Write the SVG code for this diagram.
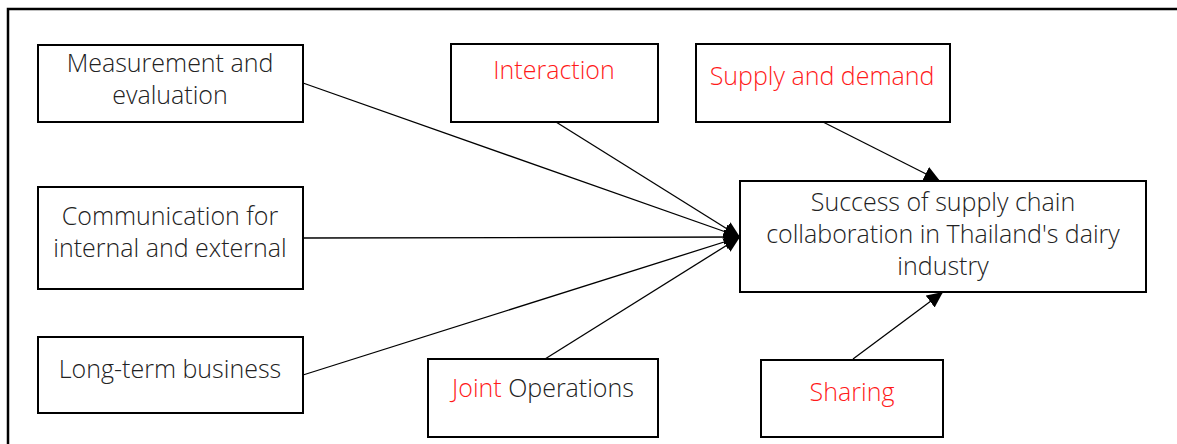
<svg xmlns="http://www.w3.org/2000/svg" width="1177" height="444" viewBox="0 0 1177 444">
  <style>
    .box { fill: #ffffff; stroke: #000000; stroke-width: 2; }
    .frame { fill: none; stroke: #000000; stroke-width: 2.5; }
    .lbl { font-family: "Open Sans", "Noto Sans", "Liberation Sans", sans-serif; font-size: 25px; font-weight: 300; fill: #222222; text-anchor: middle; }
    .red { fill: #ff1a1a; }
    .edge { stroke: #000000; stroke-width: 1.3; fill: none; marker-end: url(#head); }
  </style>
  <defs>
    <marker id="head" markerUnits="userSpaceOnUse" markerWidth="18" markerHeight="16" refX="16" refY="7.5" orient="auto">
      <path d="M0,0 L16,7.5 L0,15 Z" fill="#000000"/>
    </marker>
  </defs>

  <rect width="1177" height="444" fill="#ffffff"/>
  <rect class="frame" x="8" y="9" width="1200" height="480"/>

  <g id="connectors">
    <line class="edge" x1="303" y1="83" x2="740" y2="237"/>
    <line class="edge" x1="556" y1="122" x2="740" y2="237"/>
    <line class="edge" x1="303" y1="238" x2="740" y2="237"/>
    <line class="edge" x1="303" y1="375" x2="740" y2="237"/>
    <line class="edge" x1="545" y1="359" x2="740" y2="237"/>
    <line class="edge" x1="823" y1="122" x2="940" y2="181"/>
    <line class="edge" x1="853" y1="359" x2="943" y2="292"/>
  </g>

  <g id="measurement">
    <rect class="box" x="38" y="45" width="265" height="77"/>
    <text class="lbl" x="170" y="72">Measurement and</text>
    <text class="lbl" x="170" y="104">evaluation</text>
  </g>

  <g id="communication">
    <rect class="box" x="38" y="187" width="265" height="102"/>
    <text class="lbl" x="170" y="225">Communication for</text>
    <text class="lbl" x="170" y="257">internal and external</text>
  </g>

  <g id="longterm">
    <rect class="box" x="38" y="337" width="265" height="76"/>
    <text class="lbl" x="170" y="378">Long-term business</text>
  </g>

  <g id="interaction">
    <rect class="box" x="451" y="44" width="207" height="78"/>
    <text class="lbl red" x="554" y="79">Interaction</text>
  </g>

  <g id="supply">
    <rect class="box" x="696" y="44" width="254" height="78"/>
    <text class="lbl red" x="822" y="85">Supply and demand</text>
  </g>

  <g id="success">
    <rect class="box" x="740" y="181" width="406" height="111"/>
    <text class="lbl" x="943" y="211">Success of supply chain</text>
    <text class="lbl" x="943" y="243">collaboration in Thailand's dairy</text>
    <text class="lbl" x="943" y="275">industry</text>
  </g>

  <g id="joint">
    <rect class="box" x="428" y="359" width="230" height="78"/>
    <text class="lbl" x="543" y="397"><tspan class="red">Joint</tspan> Operations</text>
  </g>

  <g id="sharing">
    <rect class="box" x="761" y="360" width="182" height="77"/>
    <text class="lbl red" x="852" y="401">Sharing</text>
  </g>
</svg>
